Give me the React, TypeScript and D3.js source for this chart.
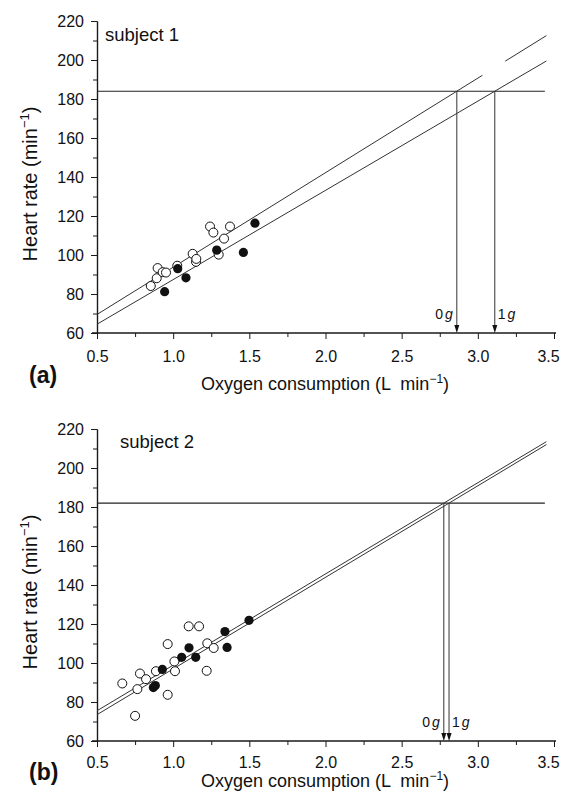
import React, { useEffect, useRef } from "react";
import * as d3 from "d3";

// subject 1: [VO2 (L/min), heart rate (1/min)]
const open1 = [
  [0.853, 84.1], [0.892, 88.1], [0.898, 93.3], [0.931, 91.2], [0.953, 91.0],
  [1.027, 94.5], [1.128, 100.6], [1.15, 96.5], [1.152, 98.0], [1.242, 114.6],
  [1.264, 111.5], [1.299, 100.2], [1.334, 108.4], [1.373, 114.6]
];
const filled1 = [
  [0.944, 81.2], [1.03, 93.0], [1.084, 88.3], [1.286, 102.5], [1.461, 101.3], [1.537, 116.3]
];
// regression lines: start / end points, plus a gap drawn in the scan
const fits1 = [
  { label: "0", x0: 0.5, y0: 69.5, x1: 3.45, y1: 212.5, gap: [3.03, 3.18], side: "left" },
  { label: "1", x0: 0.5, y0: 64.5, x1: 3.45, y1: 199.5, gap: null, side: "right" }
];
const hrMax1 = 184;

// subject 2
const open2 = [
  [0.666, 89.5], [0.75, 72.9], [0.765, 86.6], [0.782, 94.6], [0.822, 91.7],
  [0.887, 95.8], [0.964, 109.7], [0.964, 83.7], [1.008, 100.8], [1.012, 95.8],
  [1.102, 118.8], [1.17, 118.8], [1.22, 96.0], [1.224, 110.1], [1.266, 107.7]
];
const filled2 = [
  [0.87, 87.4], [0.883, 88.4], [0.929, 96.7], [1.056, 102.9], [1.104, 107.8],
  [1.148, 102.9], [1.34, 116.1], [1.354, 108.0], [1.498, 121.9]
];
const fits2 = [
  { label: "0", x0: 0.5, y0: 75.5, x1: 3.45, y1: 213.5, gap: null, side: "left" },
  { label: "1", x0: 0.5, y0: 73.5, x1: 3.45, y1: 212.0, gap: null, side: "right" }
];
const hrMax2 = 182;

const xTicks = [0.5, 1.0, 1.5, 2.0, 2.5, 3.0, 3.5];
const yTicks = [60, 80, 100, 120, 140, 160, 180, 200, 220];

const FONT = "'Liberation Sans', Arial, sans-serif";
const INK = "#1a1a1a";

function lineAt(f, x) {
  return f.y0 + ((x - f.x0) * (f.y1 - f.y0)) / (f.x1 - f.x0);
}
function crossing(f, hr) {
  return f.x0 + ((hr - f.y0) * (f.x1 - f.x0)) / (f.y1 - f.y0);
}

function Panel({ top, bottom, open, filled, fits, hrMax, subject, subjectPos, tag, tagY, titleY, tickPad }) {
  const xAxisRef = useRef(null);
  const yAxisRef = useRef(null);

  const x = d3.scaleLinear().domain([0.5, 3.5]).range([97, 554]);
  const y = d3.scaleLinear().domain([60, 220]).range([bottom, top]);

  useEffect(() => {
    const minorX = d3.range(0.75, 3.5, 0.5);
    const minorY = d3.range(70, 220, 20);

    const gx = d3.select(xAxisRef.current);
    gx.selectAll("*").remove();
    gx.append("g").call(
      d3.axisBottom(x).tickValues(xTicks).tickFormat(d3.format(".1f")).tickSize(6).tickSizeOuter(0).tickPadding(tickPad)
    );
    gx.append("g").call(d3.axisBottom(x).tickValues(minorX).tickFormat("").tickSize(4).tickSizeOuter(0));
    gx.selectAll("path.domain").attr("d", `M${x(0.5) - 5},0H${x(3.5) + 2}`);
    // last label sits against the page edge in the original
    gx.selectAll(".tick text").filter((d) => d === 3.5).attr("dx", -6);

    const gy = d3.select(yAxisRef.current);
    gy.selectAll("*").remove();
    gy.append("g").call(
      d3.axisLeft(y).tickValues(yTicks).tickFormat(d3.format("d")).tickSize(6).tickSizeOuter(0).tickPadding(7)
    );
    gy.append("g").call(d3.axisLeft(y).tickValues(minorY).tickFormat("").tickSize(4).tickSizeOuter(0));

    [gx, gy].forEach((g) => {
      g.selectAll("line").attr("stroke", INK);
      g.selectAll("path.domain").attr("stroke", INK).attr("stroke-width", 1.2);
      g.selectAll("text").attr("font-family", FONT).attr("font-size", 16).attr("fill", "#111");
    });
  }, []);

  const segs = [];
  fits.forEach((f, i) => {
    const parts = f.gap ? [[f.x0, f.gap[0]], [f.gap[1], f.x1]] : [[f.x0, f.x1]];
    parts.forEach((p, j) => {
      segs.push(
        <line
          key={`fit${i}-${j}`}
          x1={x(p[0])}
          y1={y(lineAt(f, p[0]))}
          x2={x(p[1])}
          y2={y(lineAt(f, p[1]))}
          stroke="#333"
          strokeWidth={1}
        />
      );
    });
  });

  return (
    <g>
      <g ref={xAxisRef} transform={`translate(0,${bottom})`} />
      <g ref={yAxisRef} transform={`translate(97,0)`} />

      <text x={subjectPos[0]} y={subjectPos[1]} fontFamily={FONT} fontSize={18.5} fill="#111">
        {subject}
      </text>

      {/* predicted max heart rate */}
      <line x1={x(0.5)} y1={y(hrMax)} x2={x(3.44)} y2={y(hrMax)} stroke="#222" strokeWidth={1.1} />
      {segs}

      {fits.map((f, i) => {
        const xc = x(crossing(f, hrMax));
        const yb = y(60);
        return (
          <g key={`arrow${i}`}>
            <line x1={xc} y1={y(hrMax)} x2={xc} y2={yb - 6} stroke="#333" strokeWidth={1} />
            <path d={`M${xc - 2.5},${yb - 8}L${xc + 2.5},${yb - 8}L${xc},${yb}Z`} fill="#111" />
            <text
              x={f.side === "left" ? xc - 4 : xc + 3}
              y={yb - 14}
              textAnchor={f.side === "left" ? "end" : "start"}
              fontFamily={FONT}
              fontSize={14}
              fill="#111"
            >
              {f.label}
              <tspan fontStyle="italic" dx={2}>g</tspan>
            </text>
          </g>
        );
      })}

      {open.map((d, i) => (
        <circle key={`o${i}`} cx={x(d[0])} cy={y(d[1])} r={4.5} fill="#fff" stroke="#111" strokeWidth={1} />
      ))}
      {filled.map((d, i) => (
        <circle key={`f${i}`} cx={x(d[0])} cy={y(d[1])} r={4.6} fill="#111" />
      ))}

      <text
        transform={`translate(37,${(top + bottom) / 2 + 7}) rotate(-90)`}
        textAnchor="middle"
        fontFamily={FONT}
        fontSize={20}
        fill="#111"
      >
        Heart rate (min
        <tspan dy={-8} fontSize={13}>−1</tspan>
        <tspan dy={8}>)</tspan>
      </text>

      <text
        x={325}
        y={titleY}
        textAnchor="middle"
        fontFamily={FONT}
        fontSize={18}
        fill="#111"
        style={{ whiteSpace: "pre" }}
      >
        {"Oxygen consumption (L  min"}
        <tspan dy={-7} fontSize={12}>−1</tspan>
        <tspan dy={7}>)</tspan>
      </text>

      <text x={29} y={tagY} fontFamily={FONT} fontSize={23} fontWeight="bold" fill="#111">
        {tag}
      </text>
    </g>
  );
}

export default function App() {
  return (
    <svg
      width={563}
      height={792}
      style={{ position: "absolute", left: 0, top: 0, background: "#fff" }}
    >
      <Panel
        top={21}
        bottom={333}
        open={open1}
        filled={filled1}
        fits={fits1}
        hrMax={hrMax1}
        subject="subject 1"
        subjectPos={[105, 41]}
        tag="(a)"
        tagY={383}
        titleY={390}
        tickPad={12}
      />
      <Panel
        top={429}
        bottom={741}
        open={open2}
        filled={filled2}
        fits={fits2}
        hrMax={hrMax2}
        subject="subject 2"
        subjectPos={[120, 448]}
        tag="(b)"
        tagY={780}
        titleY={787}
        tickPad={10}
      />
    </svg>
  );
}
